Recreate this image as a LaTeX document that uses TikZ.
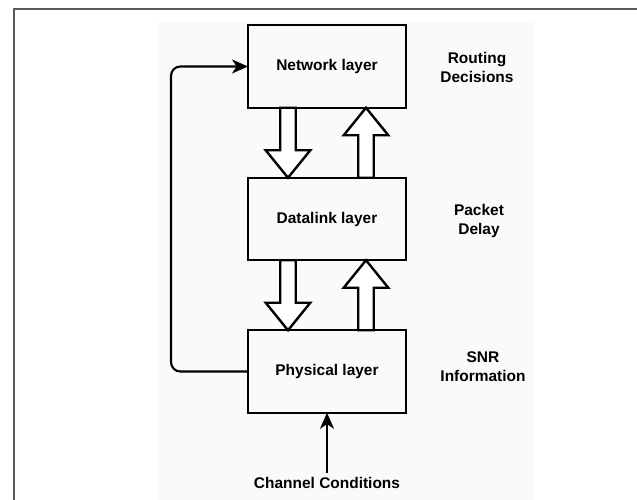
\documentclass[tikz,border=0pt]{standalone}
\usepackage{fontspec}
\setmainfont{Liberation Sans}
\usetikzlibrary{arrows.meta,shapes.arrows}

\tikzset{
    layer/.style={draw, line width=1.8pt, minimum width=118.5pt, minimum height=61.9pt,
        outer sep=0pt, font=\fontsize{11.6}{14}\selectfont\bfseries},
    info/.style={align=center, font=\fontsize{11.6}{14.2}\selectfont\bfseries},
    fatarrow/.style={single arrow, draw, line width=1.8pt, fill=white, outer sep=0pt,
        minimum height=52.5pt, inner sep=4.9pt, single arrow head extend=10.9pt,
        single arrow tip angle=78},
    link/.style={line width=1.6pt, rounded corners=7pt,
        -{Stealth[length=12pt,width=10.5pt,inset=3.5pt]}}
}

\begin{document}
\begin{tikzpicture}[x=7.5pt,y=-7.5pt]
                \useasboundingbox (0,0) rectangle (63.7,50);
                \fill[black!2] (15.8,2.2) rectangle (53.5,50);
                \draw[black!65, line width=1.2pt] (1.4,50) -- (1.4,0.9) -- (63.7,0.9);

                \node[layer] (net) at (32.7,6.65) {Network layer};
                \node[layer] (dl) at (32.7,21.9) {Datalink layer};
                \node[layer] (phys) at (32.7,37.15) {Physical layer};

                \node[info] (routing) at (47.7,6.75) {Routing\\Decisions};
                \node[info] (packet) at (47.9,22.1) {Packet\\Delay};
                \node[info] (snr) at (48.3,36.65) {SNR\\Information};
                \node[info, anchor=base] (chan) at (32.7,48.86) {Channel Conditions};

                % hollow arrows between the layers
                \node[fatarrow, rotate=-90, anchor=tail] (down1) at ([xshift=-29.25pt]net.south) {};
                \node[fatarrow, rotate=90, anchor=tail] (up1) at ([xshift=29.25pt]dl.north) {};
                \node[fatarrow, rotate=-90, anchor=tail] (down2) at ([xshift=-29.25pt]dl.south) {};
                \node[fatarrow, rotate=90, anchor=tail] (up2) at ([xshift=29.25pt]phys.north) {};

                \coordinate (bend) at (17.1,20);
                \draw[link] (phys.west) -| (bend) |- (net.west);
                \draw[link] (chan.north) -- (phys.south);
            \end{tikzpicture}
\end{document}
